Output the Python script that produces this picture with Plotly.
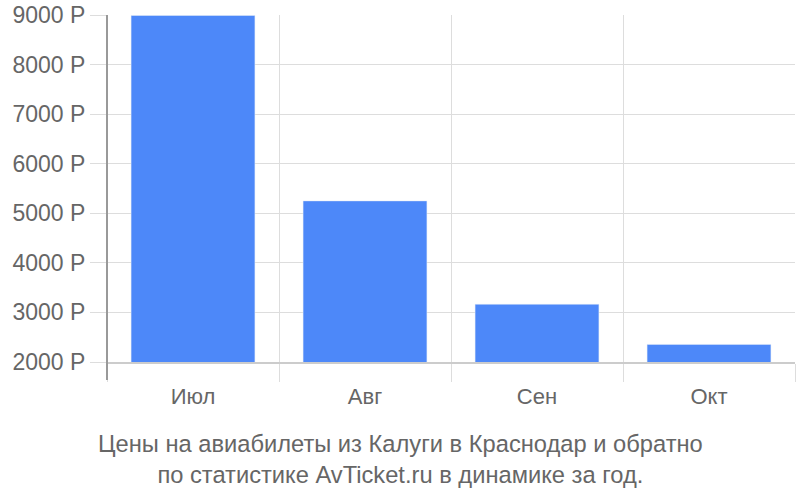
import plotly.graph_objects as go

months = ["Июл", "Авг", "Сен", "Окт"]
prices = [8990, 5250, 3165, 2355]
y_ticks = [2000, 3000, 4000, 5000, 6000, 7000, 8000, 9000]
y_tick_labels = [f"{v} Р" for v in y_ticks]
caption = "Цены на авиабилеты из Калуги в Краснодар и обратно<br>по статистике AvTicket.ru в динамике за год."

fig = go.Figure(go.Bar(x=months, y=prices, marker_color="#4d88f9", width=0.72))

fig.update_layout(
    width=800, height=500,
    margin=dict(l=107, r=5, t=15, b=138),
    plot_bgcolor="white", paper_bgcolor="white",
    font=dict(family="Liberation Sans, Arial, sans-serif", size=23, color="#666666"),
    showlegend=False, bargap=0.28,
)
fig.update_yaxes(
    range=[2000, 9000], tickvals=y_ticks, ticktext=y_tick_labels,
    gridcolor="#dddddd", gridwidth=1, zeroline=False,
    ticks="outside", ticklen=16, tickcolor="#dddddd",
    showline=False, automargin=False, ticklabeloverflow="allow",
)
fig.update_xaxes(
    tickson="boundaries", ticks="outside", ticklen=18, tickcolor="#dddddd",
    showgrid=True, gridcolor="#dddddd",
    showline=True, linecolor="#cccccc", linewidth=2,
    tickfont=dict(size=22, color="#666666"), automargin=False,
    ticklabelstandoff=14,
)
# left axis line extending below the plot
fig.add_shape(type="line", xref="paper", yref="paper", x0=0, x1=0, y0=-18/347, y1=1,
              line=dict(color="#999999", width=2))
fig.add_annotation(text=caption, xref="paper", yref="paper", x=(400-107)/688, y=-(459-362)/347,
                   yanchor="middle", showarrow=False, font=dict(size=23.7, color="#666666"),
                   align="center")
fig.write_html("out.html", config={"displayModeBar": False},
               post_script="document.body.style.margin='0';")
